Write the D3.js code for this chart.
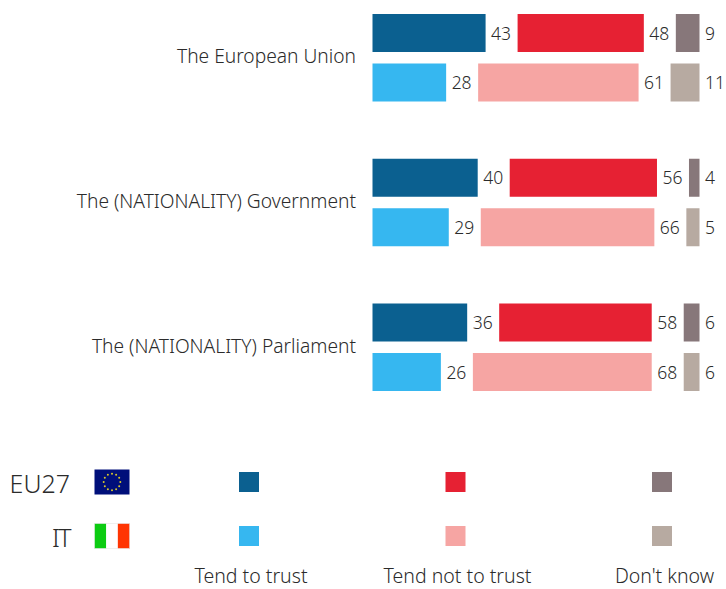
<!DOCTYPE html>
<html><head><meta charset="utf-8">
<style>html,body{margin:0;padding:0;background:#fff}svg{display:block}text{font-family:"Noto Sans",sans-serif;font-weight:300;fill:#2b2b2b}</style>
<script src="https://cdnjs.cloudflare.com/ajax/libs/d3/7.8.5/d3.min.js"></script></head><body>
<svg id="c" width="726" height="589"></svg>
<script>
const categories=["The European Union","The (NATIONALITY) Government","The (NATIONALITY) Parliament"];
const seriesNames=["Tend to trust","Tend not to trust","Don't know"];
const eu27=[[43,48,9],[40,56,4],[36,58,6]];
const it=[[28,61,11],[29,66,5],[26,68,6]];
const eu27Colors=["#0b6090","#e62133","#87777a"];
const itColors=["#36b7f0","#f6a5a3","#b7aaa1"];
const svg=d3.select("#c");
const x=d3.scaleLinear().domain([0,100]).range([0,263]);
const x0=372.5,gap=32;
const yCat=d3.scalePoint().domain(categories).range([14,303.5]);
const yRow=d3.scaleOrdinal().domain(["eu","it"]).range([0,49.5]);
const barH=38;
categories.forEach((c,i)=>{
  const g=svg.append("g").attr("transform",`translate(${x0},${yCat(c)})`);
  svg.append("text").attr("x",356).attr("y",yCat(c)+49).attr("text-anchor","end").attr("font-size",19.2).text(c);
  [["eu",eu27[i],eu27Colors],["it",it[i],itColors]].forEach(([k,vals,cols])=>{
    let cum=0;
    vals.forEach((v,j)=>{
      const xs=x(cum)+gap*j,w=x(v);
      g.append("rect").attr("x",xs).attr("y",yRow(k)).attr("width",w).attr("height",barH).attr("fill",cols[j]);
      g.append("text").attr("x",xs+w+5.5).attr("y",yRow(k)+barH/2+6.5).attr("font-size",17.5).text(v);
      cum+=v;
    });
  });
});
const legX=d3.scalePoint().domain(seriesNames).range([239,652]);
const legY=d3.scalePoint().domain(["EU27","IT"]).range([482,536]);
seriesNames.forEach((s,j)=>{
  svg.append("rect").attr("x",legX(s)).attr("y",legY("EU27")-10).attr("width",20).attr("height",20).attr("fill",eu27Colors[j]);
  svg.append("rect").attr("x",legX(s)).attr("y",legY("IT")-10).attr("width",20).attr("height",20).attr("fill",itColors[j]);
});
const labelX=[251,457.5,664.5];
seriesNames.forEach((s,j)=>svg.append("text").attr("x",labelX[j]).attr("y",583).attr("text-anchor","middle").attr("font-size",19.5).text(s));
["EU27","IT"].forEach(k=>svg.append("text").attr("x",70).attr("y",legY(k)+11).attr("text-anchor","end").attr("font-size",25).attr("letter-spacing",k=="IT"?-1.5:0).text(k));
const fx=94.5,fw=35,fh=25;
const eu=svg.append("g").attr("transform",`translate(${fx},${legY("EU27")-12.5})`);
eu.append("rect").attr("width",fw).attr("height",fh).attr("fill","#000f7a");
d3.range(12).forEach(i=>{const a=i/12*2*Math.PI;
  eu.append("circle").attr("cx",fw/2+8.3*Math.sin(a)).attr("cy",fh/2-8.3*Math.cos(a)).attr("r",1).attr("fill","#d8c92a");});
const itf=svg.append("g").attr("transform",`translate(${fx},${legY("IT")-12.5})`);
["#0ccc12","#ffffff","#ff3503"].forEach((c,i)=>itf.append("rect").attr("x",i*fw/3).attr("width",fw/3+(i==1?0:0.2)).attr("height",fh).attr("fill",c));
itf.append("rect").attr("width",fw).attr("height",fh).attr("fill","none").attr("stroke","#e6e6e6").attr("stroke-width",0.6);
</script></body></html>
